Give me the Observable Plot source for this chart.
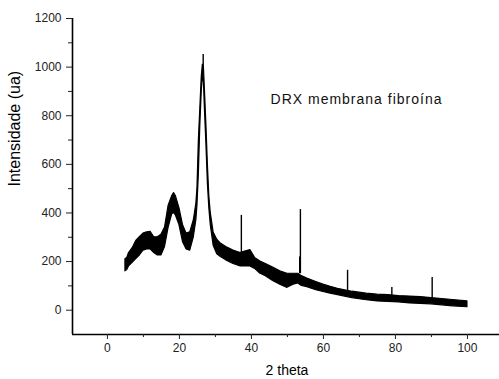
<!DOCTYPE html>
<html><head><meta charset="utf-8">
<script src="https://cdn.jsdelivr.net/npm/d3@7"></script>
<script src="https://cdn.jsdelivr.net/npm/@observablehq/plot@0.6"></script>
<style>body{margin:0;background:#fff}</style>
</head><body><div id="chart"></div>
<script>
// 2θ positions where the noisy band's lower / upper edges were read
const twoTheta = [5, 5.5, 6, 7, 8, 9, 10, 11, 12, 13, 14, 15, 16, 17, 18, 18.5, 19, 20, 21, 22, 23, 24, 24.7, 25.0, 25.4, 25.8, 26.2, 26.5, 26.8, 27.1, 27.5, 27.9, 28.3, 28.7, 29.5, 30.5, 31.5, 33, 35, 37, 38, 39.7, 41, 42.5, 44, 46, 48, 50, 51.7, 53, 54, 55.5, 58, 60, 62, 64, 66, 68, 70, 72, 75, 78, 81, 84, 87, 90, 93, 96, 100];
const lowIntensity = [160, 165, 180, 195, 210, 225, 245, 250, 250, 235, 225, 225, 260, 340, 395, 400, 390, 350, 280, 250, 245, 300, 370, 430, 560, 760, 900, 960, 940, 820, 680, 520, 420, 350, 265, 230, 219, 205, 190, 180, 180, 180, 170, 150, 140, 120, 105, 92, 105, 110, 100, 95, 82, 75, 68, 62, 56, 50, 45, 41, 36, 34, 32, 28, 26, 24, 20, 16, 12];
const highIntensity = [210, 215, 235, 255, 285, 300, 315, 320, 322, 300, 300, 310, 340, 430, 470, 482, 470, 420, 350, 315, 320, 370, 438, 500, 700, 830, 960, 1010, 1000, 900, 760, 600, 470, 400, 320, 290, 274, 260, 245, 235, 240, 247, 215, 200, 190, 175, 160, 150, 150, 150, 140, 130, 116, 105, 96, 88, 82, 76, 72, 68, 64, 62, 58, 56, 54, 50, 46, 42, 36];
// sharp reflections
const spikeTheta = [26.6, 37.2, 53.4, 53.6, 66.7, 79.0, 90.2];
const spikeBase = [980, 230, 150, 150, 75, 58, 50];
const spikeTop = [1052, 390, 219, 414, 164, 93, 134];

const xDomain = [-9.7, 108.9];
const yDomain = [-100, 1200];
const xMajorTicks = [0, 20, 40, 60, 80, 100];
const xMinorTicks = [10, 30, 50, 70, 90];
const yMajorTicks = [0, 200, 400, 600, 800, 1000, 1200];
const yMinorTicks = [100, 300, 500, 700, 900, 1100];
const xLabel = "2 theta";
const yLabel = "Intensidade (ua)";
const annotation = "DRX membrana fibroína";

const band = twoTheta.map((t, i) => ({t, lo: lowIntensity[i], hi: highIntensity[i]}));
const spikes = spikeTheta.map((t, i) => ({t, base: spikeBase[i], top: spikeTop[i]}));

const font = "'Liberation Sans', Arial, sans-serif";
const chart = Plot.plot({
  width: 499, height: 379,
  marginLeft: 72, marginRight: 0, marginTop: 18, marginBottom: 45,
  style: {fontFamily: font, fontSize: "12px", background: "white", color: "black", overflow: "visible"},
  x: {domain: xDomain, axis: null},
  y: {domain: yDomain, axis: null},
  marks: [
    Plot.areaY(band, {x: "t", y1: "lo", y2: "hi", fill: "black", stroke: "black", strokeWidth: 1.2}),
    Plot.ruleX(spikes, {x: "t", y1: "base", y2: "top", stroke: "black", strokeWidth: 1.4}),
    Plot.ruleX([xDomain[0]], {stroke: "black", strokeWidth: 1.6}),
    Plot.ruleY([yDomain[0]], {stroke: "black", strokeWidth: 1.6}),
    Plot.axisY({ticks: yMajorTicks, tickSize: 6, tickPadding: 5, label: null, fontSize: 12, color: "#222", tickFormat: d => String(d)}),
    Plot.axisY({ticks: yMinorTicks, tickSize: 4, text: null, label: null, color: "#222"}),
    Plot.axisX({ticks: xMajorTicks, tickSize: 5, tickPadding: 4, label: null, fontSize: 12, color: "#222", tickFormat: d => String(d)}),
    Plot.axisX({ticks: xMinorTicks, tickSize: 3, text: null, label: null, color: "#222"}),
    Plot.text([yLabel], {frameAnchor: "left", dx: -64, dy: 10, rotate: -90, lineAnchor: "top", fontSize: 16, fill: "black"}),
    Plot.text([xLabel], {frameAnchor: "bottom", dx: 1, dy: 36, lineAnchor: "middle", fontSize: 14, fill: "black"}),
    Plot.text([annotation], {x: 45.3, y: 867, textAnchor: "start", fontSize: 14, fill: "#111"})
  ]
});
document.getElementById("chart").appendChild(chart);
d3.select(chart).selectAll("text").filter(function(){ return this.textContent === annotation; }).attr("letter-spacing", "1px");
</script>
</body></html>
